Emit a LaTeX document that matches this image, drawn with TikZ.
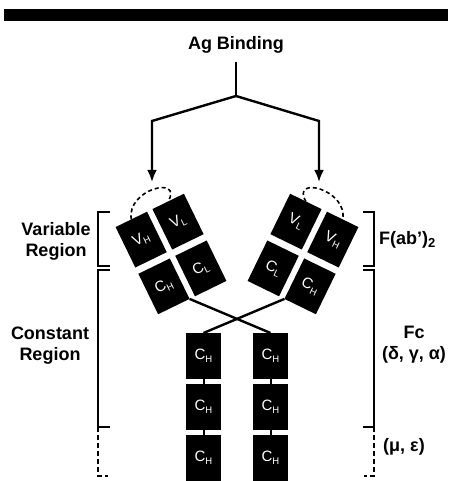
\documentclass[tikz,border=0pt]{standalone}
\usepackage{fontspec}
\setmainfont{Liberation Sans}
\usepackage{tikz}
\usetikzlibrary{arrows.meta,positioning}
\newcommand{\dom}[2]{#1\raisebox{-0.35ex}{\fontsize{9.5}{9.5}\selectfont #2}}
\tikzset{
  dombox/.style={
    fill=black, text=white, minimum width=35pt, minimum height=#1,
    inner sep=0pt, outer sep=0pt, font=\fontsize{15}{15}\selectfont,
  },
  dombox/.default=45pt,
  arrow/.style={-{Latex[length=12pt,width=10pt]}, line width=2.4pt},
  link/.style={line width=2.4pt},
  hinge/.style={line width=2pt},
  loopline/.style={dash pattern=on 4pt off 3pt, line width=1.6pt},
  brk/.style={line width=1.8pt},
  dbrk/.style={line width=1.8pt, dash pattern=on 5pt off 3pt},
  lbl/.style={font=\fontsize{18}{21}\selectfont\bfseries, align=center, inner sep=0pt},
}
\begin{document}
\begin{tikzpicture}[x=1pt, y=1pt, node distance=5pt]

  \useasboundingbox (0,0) rectangle (448,481);
  \fill (4,460) rectangle (448,472);

  \node[lbl] (ag) at (236,436) {Ag Binding};
  \coordinate (fork) at (236,385);
  \coordinate (lbend) at (152,360);
  \coordinate (rbend) at (319,360);
  \coordinate (ltip) at (152,299);
  \coordinate (rtip) at (319,299);

  \draw[link] ([yshift=-8pt]ag.south) -- (fork);
  \draw[arrow] (fork) -- (lbend) -- (ltip);
  \draw[arrow] (fork) -- (rbend) -- (rtip);

  \begin{scope}[shift={(171,227)}, rotate=26, transform shape]
    \node[dombox] (lVH) at (-20.5,26) {\dom{V}{H}};
    \node[dombox] (lVL) at (20.5,26) {\dom{V}{L}};
    \node[dombox] (lCH) at (-20.5,-26) {\dom{C}{H}};
    \node[dombox] (lCL) at (20.5,-26) {\dom{C}{L}};
  \end{scope}

  \begin{scope}[shift={(303,227)}, rotate=-26, transform shape]
    \node[dombox] (rVL) at (-20.5,26) {\dom{V}{L}};
    \node[dombox] (rVH) at (20.5,26) {\dom{V}{H}};
    \node[dombox] (rCL) at (-20.5,-26) {\dom{C}{L}};
    \node[dombox] (rCH) at (20.5,-26) {\dom{C}{H}};
  \end{scope}

  \draw[loopline] (lVH.north) to[out=100, in=60, looseness=1.9] (lVL.north);
  \draw[loopline] (rVL.north) to[out=120, in=80, looseness=1.9] (rVH.north);

  \node[dombox=46pt] (lc1) at (203.5,125) {\dom{C}{H}};
  \node[dombox=46pt, below=of lc1] (lc2) {\dom{C}{H}};
  \node[dombox=46pt, below=of lc2] (lc3) {\dom{C}{H}};
  \node[dombox=46pt] (rc1) at (270.5,125) {\dom{C}{H}};
  \node[dombox=46pt, below=of rc1] (rc2) {\dom{C}{H}};
  \node[dombox=46pt, below=of rc2] (rc3) {\dom{C}{H}};

  \draw[link] (lCH.south east) -- (rc1.north);
  \draw[link] (rCH.south west) -- (lc1.north);
  \draw[hinge] (lc1.south) -- (lc2.north);
  \draw[hinge] (lc2.south) -- (lc3.north);
  \draw[hinge] (rc1.south) -- (rc2.north);
  \draw[hinge] (rc2.south) -- (rc3.north);

  \draw[brk] (110,269) -- (98,269) -- (98,215) -- (110,215);
  \draw[brk] (110,211) -- (98,211) -- (98,54) -- (110,54);
  \draw[dbrk] (98,54) -- (98,5) -- (108,5);
  \draw[brk] (363,269) -- (374,269) -- (374,215) -- (363,215);
  \draw[brk] (363,211) -- (374,211) -- (374,54) -- (363,54);
  \draw[dbrk] (374,54) -- (374,5) -- (364,5);

  \node[lbl] (varlbl) at (56,240) {Variable\\Region};
  \node[lbl] (conlbl) at (50,135) {Constant\\Region};
  \node[lbl, anchor=west] (fab) at (379,241)
    {F(ab’)\raisebox{-0.35ex}{\fontsize{13}{13}\selectfont 2}};
  \node[lbl] (fc) at (414,136) {Fc\\(δ, γ, α)};
  \node[lbl] (mu) at (404,34) {(μ, ε)};

\end{tikzpicture}
\end{document}
